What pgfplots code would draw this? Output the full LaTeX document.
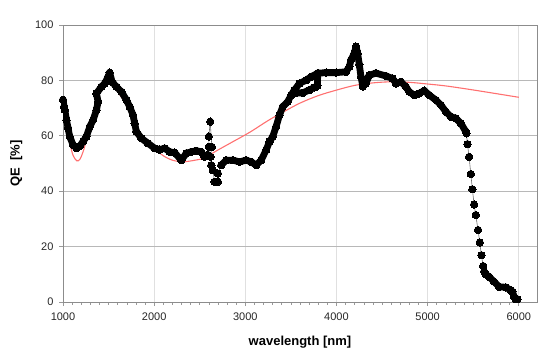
\documentclass[border=0pt]{standalone}
\usepackage{fontspec}
\setmainfont{Liberation Sans}
\usepackage{pgfplots}
\pgfplotsset{compat=1.18}
\definecolor{redc}{RGB}{255,112,112}
\definecolor{thinl}{RGB}{110,110,110}
\begin{document}
\begin{tikzpicture}
\begin{axis}[
  scale only axis, width=474pt, height=277pt,
  xmin=1000, xmax=6200, ymin=0, ymax=100,
  xtick={1000,2000,3000,4000,5000,6000}, ytick={0,20,40,60,80,100},
  minor x tick num=9,
  xtick pos=bottom, ytick pos=left,
  tick align=outside,
  major tick length=4pt, minor tick length=2.5pt,
  xmajorgrids, ymajorgrids,
  x grid style={draw=black!12, line width=0.8pt},
  y grid style={draw=black!28, line width=0.8pt},
  axis line style={draw=black!45, line width=0.8pt},
  tick style={draw=black!40, line width=0.6pt},
  /pgf/number format/assume math mode=true,
  /pgf/number format/1000 sep={},
  ticklabel style={font=\fontsize{11}{13}\selectfont, text=black!85},
  xticklabel style={yshift=-3pt},
  yticklabel style={xshift=-2pt},
  xlabel={\textbf{wavelength [nm]}}, ylabel={\textbf{QE \ [\%]}},
  label style={font=\fontsize{13}{15}\selectfont},
  xlabel style={yshift=-9pt},
  ylabel style={yshift=6pt},
  clip=true,
]
% red fit curve
\addplot[redc, line width=1.1pt, smooth, no marks] coordinates {
(1000,74) (1040,63.5) (1075,57.3) (1110,53) (1150,51) (1185,51.5) (1220,54.2)
(1257,58.5) (1294,63.3) (1330,68) (1367,72.5) (1420,76.5) (1476,78.5) (1510,79.5)
(1570,77.5) (1640,74) (1715,70.5) (1770,66) (1825,62) (1900,58.5) (2000,55.5)
(2100,52.8) (2200,51.2) (2316,50.6) (2450,51.2) (2550,52) (2680,54.5) (2860,57.8)
(3050,61.3) (3250,65.5) (3400,68.3) (3600,71.8) (3800,74.5) (4000,76.5) (4200,78.2)
(4400,79.1) (4600,79.5) (4800,79.3) (5000,78.7) (5200,78) (5450,76.8) (5700,75.5) (6000,73.9)
};
% measured QE: dense parts
\addplot[black, line width=6.8pt, line join=round, line cap=round, mark=*, mark size=3.7pt, mark options={fill=black, line width=0pt}] coordinates {
(1000,73) (1012,70.5) (1020,69.3) (1038,65.7) (1056,62.7) (1074,59.7) (1111,56.7)
(1148,55.5) (1184,56.3) (1220,57.9) (1257,59.7) (1294,63.3) (1330,65.7) (1367,69.3)
(1385,72.3) (1367,75.3) (1422,77.7) (1458,78.9) (1494,81.3) (1512,82.8) (1538,79.5)
(1586,77.7) (1641,75.9) (1696,72.9) (1732,70.5) (1768,67.5) (1786,64.5) (1805,61.5)
(1860,59.1) (1932,57.3) (2005,55.5) (2060,55) (2115,55.5) (2170,54.2) (2225,53.9)
(2298,51.2) (2353,53.7) (2407,54.2) (2462,54.6) (2517,54.2) (2553,52.4) (2589,53.1)
};
\addplot[thinl, line width=0.6pt, mark=*, mark size=3.7pt, mark options={fill=black, draw=black, line width=0pt}] coordinates {
(2589,53.1) (2600,56.0) (2600,59.7) (2615,65.1) (2633,56.0) (2619,52.4) (2627,49.4)
(2644,47.6) (2663,43.4) (2699,43.4) (2699,46.4) (2736,49.4)
};
\addplot[black, line width=6.8pt, line join=round, line cap=round, mark=*, mark size=3.7pt, mark options={fill=black, line width=0pt}] coordinates {
(2736,49.4) (2791,51.2) (2863,51.2) (2936,50.6) (3009,51.2) (3065,50.6) (3119,49.4)
(3174,51.2) (3229,54.9) (3265,57.9) (3301,59.7) (3338,63.3) (3375,67.5) (3411,70.5)
(3466,72.3) (3503,74.7) (3539,76.5) (3594,78.9) (3668,80.1) (3722,81.3) (3795,82.6)
(3886,82.8) (3996,82.8) (4105,83.1) (4141,84.9) (4160,87.4) (4196,89.8) (4214,92.2)
(4232,89.8) (4251,85.6) (4269,81.3) (4290,77.8) (4324,79) (4360,81.9) (4433,82.6)
(4543,81.6) (4616,80.7) (4653,78.9) (4707,79.5) (4762,77.7) (4798,75.9) (4853,74.7)
(4908,75.3) (4963,76.3) (5018,74.7) (5091,72.9) (5146,71.1) (5200,68.7) (5255,66.9)
(5310,66.3) (5365,64.5) (5419,61.5)
};
\addplot[black, line width=6.8pt, line join=round, line cap=round, mark=*, mark size=3.7pt, mark options={fill=black, line width=0pt}] coordinates {
(3560,75.5) (3630,75.5) (3700,76.5) (3760,77.5) (3790,78) (3795,82.6)
};
% steep drop
\addplot[thinl, line width=0.6pt, mark=*, mark size=3.7pt, mark options={fill=black, draw=black, line width=0pt}] coordinates {
(5419,61.5) (5426,60.9) (5437,57.0) (5455,52.4) (5474,46.2) (5491,40.7) (5510,35.2)
(5528,31.4) (5553,26.0) (5572,21.5) (5590,16.9) (5609,13.0) (5638,10.0)
};
\addplot[black, line width=6.8pt, line join=round, line cap=round, mark=*, mark size=3.7pt, mark options={fill=black, line width=0pt}] coordinates {
(5620,11) (5638,10.0) (5675,9.1) (5730,7.3) (5784,5.5) (5857,5.3) (5912,4.3)
(5930,3.7) (5949,1.9) (5967,1.0) (5985,1.0)
};
\end{axis}
\path ([shift={(-63pt,-58pt)}]current axis.south west) rectangle ([shift={(23pt,25pt)}]current axis.north east);
\end{tikzpicture}
\end{document}
